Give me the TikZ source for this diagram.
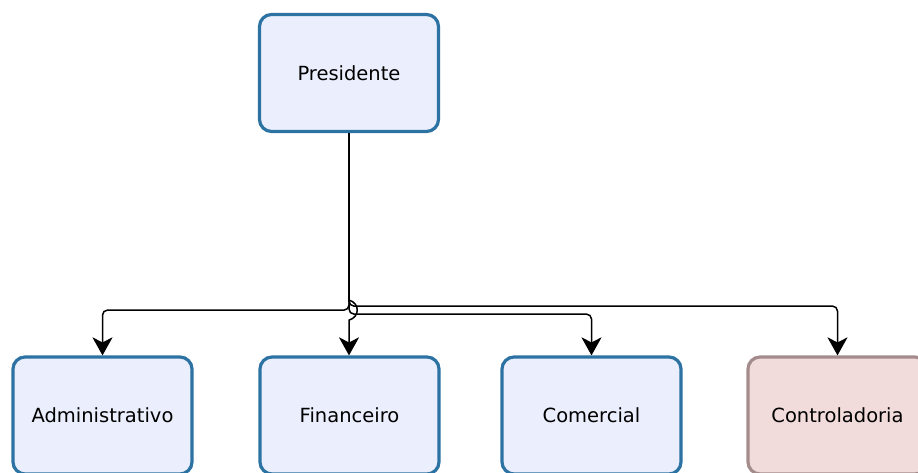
\documentclass[tikz,border=0pt]{standalone}
\usepackage{fontspec}
\setmainfont{DejaVu Sans}
\usetikzlibrary{arrows.meta}
\definecolor{bluefill}{HTML}{EBEEFC}
\definecolor{blueline}{HTML}{2C72A2}
\definecolor{pinkfill}{HTML}{F2DCDB}
\definecolor{pinkline}{HTML}{A48C8C}
\tikzset{
  orgbox/.style={draw=blueline, fill=bluefill, line width=3.2pt, rounded corners=12pt,
    minimum width=179pt, minimum height=117pt, inner sep=0pt,
    font=\fontsize{19.5}{22}\selectfont},
  ctrlbox/.style={orgbox, draw=pinkline, fill=pinkfill},
  link/.style={draw=black, line width=1.5pt, rounded corners=5pt,
    -{Stealth[length=18pt, width=20pt, inset=5pt]}}
}
\begin{document}
\begin{tikzpicture}[x=1pt,y=-1pt]
\useasboundingbox (0,0) rectangle (918,473);
\node[orgbox] (pres) at (349,73) {Presidente};
\node[orgbox] (adm) at (102.5,415.5) {Administrativo};
\node[orgbox] (fin) at (349.5,415.5) {Financeiro};
\node[orgbox] (com) at (591.5,415.5) {Comercial};
\node[ctrlbox] (ctrl) at (837.5,415.5) {Controladoria};
\draw[link] (pres.south) -- ++(0,173) -| (ctrl.north);
\draw[link] (pres.south) -- ++(0,177) -| (adm.north);
\draw[link] (pres.south) -- ++(0,181) -| (com.north);
\draw[link, rounded corners=0pt] (pres.south) -- ++(0,167)
  .. controls +(11,3) and +(11,-3) .. ++(0,20) -- (pres.south |- fin.north);
\end{tikzpicture}
\end{document}
